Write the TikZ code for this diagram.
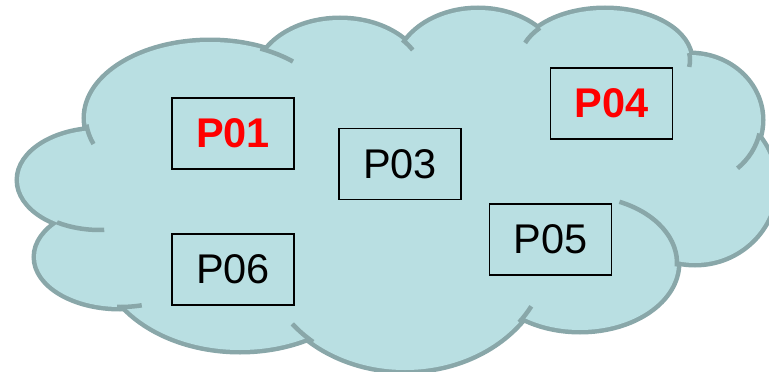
\documentclass[tikz,border=0pt]{standalone}
\usepackage{fontspec}
\setmainfont{Liberation Sans}
\definecolor{cloudfill}{HTML}{B9DFE2}
\definecolor{cloudline}{HTML}{89A7A9}

\begin{document}
\begin{tikzpicture}[x=1pt, y=-1pt,
    proc/.style={draw, line width=1.8pt, minimum width=122pt, minimum height=71pt,
      inner sep=0pt, font=\fontsize{41.5}{41.5}\selectfont},
    hot/.style={proc, text=red, font=\fontsize{41.5}{41.5}\selectfont\bfseries},
    tail/.style={cloudline, line width=4.5pt}]
  \useasboundingbox (0,0) rectangle (769,372);
  % lobes: centre x / centre y / x radius / y radius
  \def\lobes{100/180/81/50, 210/118/124/76, 340/80/84/60, 478/72/82/62,
    605/60/85/50, 690/120/71/65, 695/185/80/78, 580/263/97/67,
    405/250/143/120, 240/250/140/100, 120/257/84/50}
  % outline twice as wide, the fill then hides its inner half
  \foreach \cx/\cy/\rx/\ry in \lobes
    \draw[cloudline, line width=9pt] (\cx,\cy) ellipse [x radius=\rx, y radius=\ry];
  \foreach \cx/\cy/\rx/\ry in \lobes
    \fill[cloudfill] (\cx,\cy) ellipse [x radius=\rx, y radius=\ry];
  \fill[cloudfill] (100,180) -- (210,118) -- (340,80) -- (478,72) -- (605,60)
    -- (690,120) -- (695,185) -- (580,263) -- (405,250) -- (240,250)
    -- (120,257) -- cycle;
  % inner arcs where the lobes meet
  \foreach \cx/\cy/\rx/\ry/\a/\b in {210/118/124/76/175/160, 210/118/124/76/-66/-48,
      340/80/84/60/-42/-30, 605/60/85/50/220/200, 605/60/85/50/-8/8,
      690/120/71/65/12/48, 580/263/97/67/3/-66, 405/250/143/120/37/28,
      405/250/143/120/130/142, 120/257/84/50/92/75, 100/180/81/50/122/87}
    \draw[tail] (\cx,\cy) ++({\a}:{\rx} and {\ry})
      arc[start angle=\a, end angle=\b, x radius=\rx, y radius=\ry];

  \node[hot] (P01) at (233,133.5) {P01};
  \node[proc] (P03) at (400,164) {P03};
  \node[hot] (P04) at (611.5,103.5) {P04};
  \node[proc] (P05) at (550.5,239.5) {P05};
  \node[proc] (P06) at (233,269.5) {P06};
\end{tikzpicture}
\end{document}
